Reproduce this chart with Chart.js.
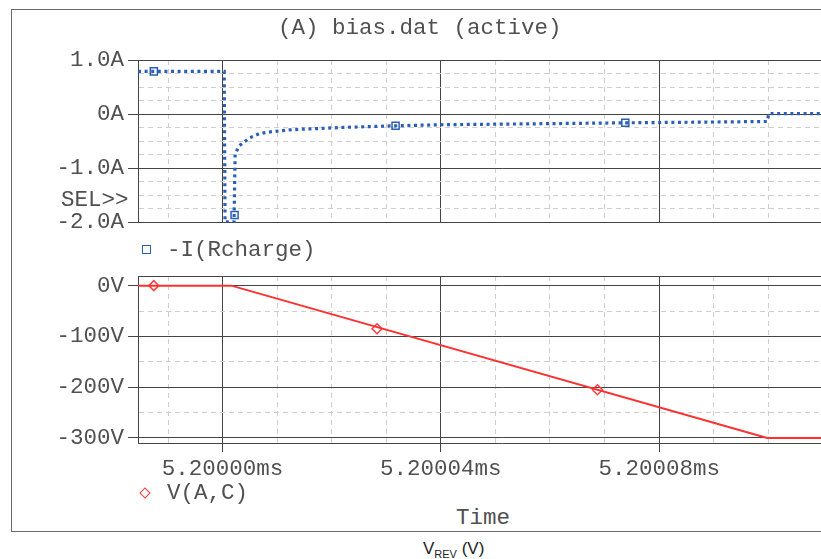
<!DOCTYPE html>
<html>
<head>
<meta charset="utf-8">
<title>bias.dat</title>
<script src="https://cdn.jsdelivr.net/npm/chart.js@4.4.0/dist/chart.umd.min.js"></script>
<style>
    html, body { margin: 0; padding: 0; width: 821px; height: 559px; overflow: hidden; background: #fff; }
    #frame { position: absolute; left: 11px; top: 9px; width: 900px; height: 521px; border: 1.5px solid #6a6a6a; }
    .txt { position: absolute; font-family: "Liberation Mono", monospace; font-size: 22.5px; line-height: 24px; color: #505050; white-space: pre; }
    #topCanvas { position: absolute; left: 0; top: 0; }
    #botCanvas { position: absolute; left: 0; top: 240px; }
    .sq { position: absolute; left: 142px; top: 245px; width: 7px; height: 7px; border: 1.5px solid #2b5fb4; }
    .dm { position: absolute; left: 141px; top: 489px; width: 6px; height: 6px; border: 1.5px solid #ff3b3b; transform: rotate(45deg); }
    #caption { position: absolute; left: 423px; top: 539px; font-family: "Liberation Sans", Arial, sans-serif; font-size: 17px; color: #222; }
    #caption sub { font-size: 11px; }
</style>
</head>
<body>
<div id="frame"></div>
<canvas id="topCanvas" width="873" height="240"></canvas>
<canvas id="botCanvas" width="873" height="250"></canvas>

<div class="txt" style="left:278px; top:16px;">(A) bias.dat (active)</div>
<div class="txt" style="left:61px; top:188px;">SEL&gt;&gt;</div>
<div class="sq"></div>
<div class="txt" style="left:167px; top:238px;">-I(Rcharge)</div>
<div class="dm"></div>
<div class="txt" style="left:167px; top:481px;">V(A,C)</div>
<div class="txt" style="left:456px; top:506px;">Time</div>
<div id="caption">V<sub>REV</sub> (V)</div>

<script>
    // Tempo em ns depois de 5.20000ms
    const iTime = [-15.5, 0.3, 0.45, 2.1, 2.3, 3.1, 4.9, 6.7, 8.5, 10.3, 12.2, 14, 17.6, 22, 31.7, 40, 55, 73.8, 90, 99.8, 100.1, 140];
    const iAmps = [0.79, 0.79, -1.99, -1.99, -0.73, -0.58, -0.44, -0.36, -0.33, -0.31, -0.29, -0.28, -0.265, -0.245, -0.215, -0.195, -0.18, -0.16, -0.145, -0.135, 0.01, 0.01];
    const iMarkTime = [-12.6, 2.2, 31.7, 73.8];
    const iMarkAmps = [0.79, -1.86, -0.215, -0.16];

    const vTime = [-15.5, 1.6, 99.8, 140];
    const vVolts = [0, 0, -300, -300];
    const vMarkTime = [-12.6, 28.3, 68.7];
    const vMarkVolts = [0, -85, -205];

    // Escalas
    const timeMin = -15.5, timeMax = 118;
    const ampMin = -2, ampMax = 1;
    const voltMin = -310, voltMax = 19;

    const FONT = { family: '"Liberation Mono", monospace', size: 22.5 };
    const TEXT_COLOR = '#505050';
    const MAJOR_COLOR = '#444';
    const MINOR_COLOR = '#cfcfcf';

    function isMultiple(v, step) {
        return Math.abs(v / step - Math.round(v / step)) < 1e-6;
    }

    function toPoints(xs, ys) {
        return xs.map(function(x, i) { return { x: x, y: ys[i] }; });
    }

    /**
     * Grade: linhas principais sólidas, secundárias tracejadas
     */
    function gridOptions(major, minor, withTicks, tickLength) {
        return {
            color: function(ctx) {
                if (!ctx.tick) return MAJOR_COLOR;
                const v = ctx.tick.value;
                if (isMultiple(v, major)) return MAJOR_COLOR;
                if (isMultiple(v, minor)) return MINOR_COLOR;
                return MAJOR_COLOR;
            },
            lineWidth: 1,
            drawTicks: withTicks,
            tickLength: tickLength,
            tickColor: MAJOR_COLOR,
            tickWidth: function(ctx) {
                return ctx.tick && isMultiple(ctx.tick.value, major) ? 1 : 0;
            }
        };
    }

    function borderOptions(major, minor) {
        return {
            display: true,
            color: MAJOR_COLOR,
            width: 1,
            dash: function(ctx) {
                if (!ctx.tick) return [];
                const v = ctx.tick.value;
                if (!isMultiple(v, major) && isMultiple(v, minor)) return [5, 4];
                return [];
            }
        };
    }

    function timeLabel(v) {
        if (!isMultiple(v, 40)) return '';
        return (5.2 + v * 1e-6).toFixed(5) + 'ms';
    }

    // Só a borda superior da área do gráfico
    const topEdge = {
        type: 'linear',
        position: 'top',
        min: timeMin,
        max: timeMax,
        afterFit: function(scale) { scale.height = 0; },
        ticks: { display: false },
        grid: { display: false },
        border: { display: true, color: MAJOR_COLOR, width: 1 }
    };

    // Gráfico de corrente
    new Chart(document.getElementById('topCanvas'), {
        type: 'line',
        data: {
            datasets: [
                {
                    label: '-I(Rcharge)',
                    data: toPoints(iTime, iAmps),
                    borderColor: '#2b5fb4',
                    borderWidth: 3.2,
                    borderDash: [3, 3.6],
                    borderCapStyle: 'butt',
                    pointRadius: 0,
                    tension: 0
                },
                {
                    label: 'markers',
                    data: toPoints(iMarkTime, iMarkAmps),
                    showLine: false,
                    pointStyle: 'rect',
                    pointRadius: 5,
                    pointBorderWidth: 1.5,
                    pointBorderColor: '#2b5fb4',
                    pointBackgroundColor: 'rgba(0,0,0,0)'
                }
            ]
        },
        options: {
            responsive: false,
            animation: false,
            layout: { padding: { top: 60, left: 0, right: 0, bottom: 14 } },
            plugins: { legend: { display: false }, tooltip: { enabled: false } },
            scales: {
                x: {
                    type: 'linear',
                    min: timeMin,
                    max: timeMax,
                    afterFit: function(scale) { scale.height = 0; },
                    ticks: { display: false, stepSize: 10, autoSkip: false, includeBounds: false },
                    grid: gridOptions(40, 10, false, 0),
                    border: borderOptions(40, 10)
                },
                y: {
                    min: ampMin,
                    max: ampMax,
                    afterFit: function(scale) { scale.width = 138; },
                    ticks: {
                        stepSize: 0.25,
                        autoSkip: false,
                        includeBounds: false,
                        padding: 4,
                        color: TEXT_COLOR,
                        font: FONT,
                        callback: function(v) {
                            if (!isMultiple(v, 1)) return '';
                            return v === 0 ? '0A' : v.toFixed(1) + 'A';
                        }
                    },
                    grid: gridOptions(1, 0.25, true, 10),
                    border: borderOptions(1, 0.25)
                }
            }
        }
    });

    // Gráfico de tensão
    new Chart(document.getElementById('botCanvas'), {
        type: 'line',
        data: {
            datasets: [
                {
                    label: 'V(A,C)',
                    data: toPoints(vTime, vVolts),
                    borderColor: '#ff3030',
                    borderWidth: 2,
                    pointRadius: 0,
                    tension: 0
                },
                {
                    label: 'markers',
                    data: toPoints(vMarkTime, vMarkVolts),
                    showLine: false,
                    pointStyle: 'rectRot',
                    pointRadius: 5,
                    pointBorderWidth: 1.5,
                    pointBorderColor: '#ff4040',
                    pointBackgroundColor: 'rgba(0,0,0,0)'
                }
            ]
        },
        options: {
            responsive: false,
            animation: false,
            layout: { padding: { top: 36, left: 0, right: 0, bottom: 0 } },
            plugins: { legend: { display: false }, tooltip: { enabled: false } },
            scales: {
                x: {
                    type: 'linear',
                    min: timeMin,
                    max: timeMax,
                    afterFit: function(scale) { scale.height = 47; },
                    ticks: {
                        stepSize: 10,
                        autoSkip: false,
                        includeBounds: false,
                        maxRotation: 0,
                        minRotation: 0,
                        padding: 4,
                        color: TEXT_COLOR,
                        font: FONT,
                        callback: timeLabel
                    },
                    grid: gridOptions(40, 10, true, 9),
                    border: borderOptions(40, 10)
                },
                xTop: topEdge,
                y: {
                    min: voltMin,
                    max: voltMax,
                    afterFit: function(scale) { scale.width = 138; },
                    ticks: {
                        stepSize: 50,
                        autoSkip: false,
                        includeBounds: false,
                        padding: 4,
                        color: TEXT_COLOR,
                        font: FONT,
                        callback: function(v) {
                            if (!isMultiple(v, 100)) return '';
                            return v + 'V';
                        }
                    },
                    grid: gridOptions(100, 50, true, 10),
                    border: borderOptions(100, 50)
                }
            }
        }
    });
</script>
</body>
</html>
